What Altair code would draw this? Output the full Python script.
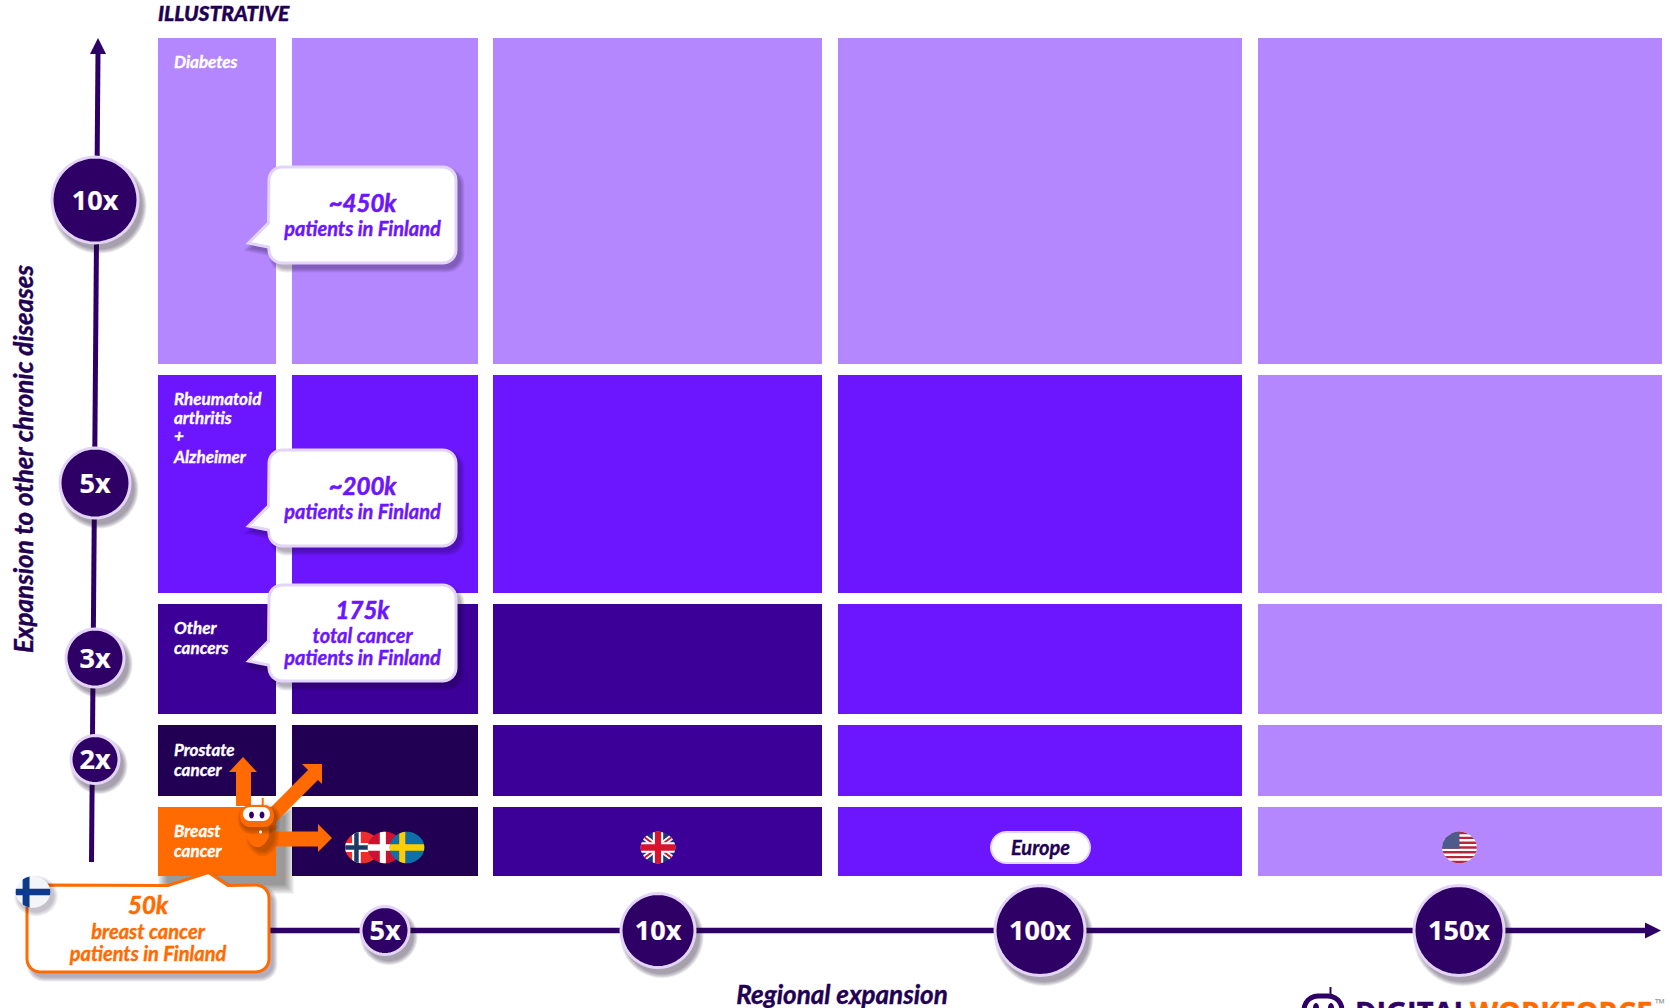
import math
import altair as alt
import pandas as pd

W, H = 1670, 1008
LABEL_FONT = "Lato"
BADGE_FONT = "Open Sans"

LILAC, VIOLET, INDIGO, NIGHT = "#B587FF", "#6C15FF", "#3C0099", "#210054"
ORANGE, AXIS, HALO = "#FF6B00", "#2E0066", "#E3D4FA"

# Grid of market/indication cells
column_start = [158, 292, 493, 838, 1258]
column_end = [276, 478, 822, 1242, 1662]
row_start = [38, 375, 604, 725, 807]
row_end = [364, 593, 714, 796, 876]
cell_tiers = [
    ["light", "light", "light", "light", "light"],
    ["mid", "mid", "mid", "mid", "light"],
    ["deep", "deep", "deep", "mid", "light"],
    ["night", "night", "deep", "mid", "light"],
    ["start", "night", "deep", "mid", "light"],
]
tier_names = ["light", "mid", "deep", "night", "start"]
tier_colors = [LILAC, VIOLET, INDIGO, NIGHT, ORANGE]

# Multiplier badges along both axes
y_badges = ["10x", "5x", "3x", "2x"]
y_badge_x = [95, 95, 95, 95]
y_badge_y = [200, 483, 658, 759.5]
y_badge_r = [43, 35, 29, 24]
x_badges = ["5x", "10x", "100x", "150x"]
x_badge_x = [385, 658, 1040, 1459]
x_badge_y = [930.5, 930.5, 930.5, 930.5]
x_badge_r = [24, 37, 45, 45]

# Disease labels inside the first column
cell_text = ["Diabetes", "Rheumatoid", "arthritis", "+", "Alzheimer", "Other",
             "cancers", "Prostate", "cancer", "Breast", "cancer"]
cell_text_y = [68, 405, 424, 442, 463, 634, 654, 756, 776, 837, 857]

# Speech bubbles: box centre, box size, text lines
bubble_x = [362.5, 362.5, 362.5]
bubble_y = [215, 498, 633]
bubble_w, bubble_h = 187, 96
bubble_heads = ["~450k", "~200k", "175k"]
bubble_head_y = [212, 495, 619]
bubble_lines = ["patients in Finland", "patients in Finland", "total cancer", "patients in Finland"]
bubble_line_y = [236, 519, 643, 665]

# Flags sit on the bottom row
flag_y = 847.5
nordic_x = [362.5, 385, 407]


def frame(**cols):
    return pd.DataFrame(cols)


def enc(**extra):
    return dict(
        x=alt.X("x:Q", scale=alt.Scale(domain=[0, W], range=[0, W]), axis=None),
        y=alt.Y("y:Q", scale=alt.Scale(domain=[0, H], range=[0, H]), axis=None),
        **extra,
    )


def poly(points):
    return "M" + "L".join(f"{a:.2f},{b:.2f}" for a, b in points) + "Z"


def ellipse(rx, ry, n=48):
    return [(rx * math.cos(2 * math.pi * i / n), ry * math.sin(2 * math.pi * i / n)) for i in range(n)]


def rounded(w, h, r, top_tail=None, left_tail=None):
    """Rounded box around the origin, optionally with a speech tail."""
    out = []

    def corner(cx, cy, start):
        for i in range(7):
            a = math.radians(start + i * 15)
            out.append((cx + r * math.cos(a), cy + r * math.sin(a)))

    hw, hh = w / 2, h / 2
    corner(-hw + r, -hh + r, 180)
    if top_tail:
        out.extend(top_tail)
    corner(hw - r, -hh + r, 270)
    corner(hw - r, hh - r, 0)
    corner(-hw + r, hh - r, 90)
    if left_tail:
        out.extend(left_tail)
    return poly(out)


def disc_piece(rx, ry, x_range=None, y_range=None, turn=0.0, n=72):
    """Part of an oval flag disc: the disc clipped to a band, optionally rotated."""
    out = []
    for i in range(n):
        a = 2 * math.pi * i / n
        u, v = math.cos(a), math.sin(a)
        c, s = math.cos(turn), math.sin(turn)
        p, q = u * c + v * s, -u * s + v * c
        if x_range:
            p = min(max(p, x_range[0]), x_range[1])
        if y_range:
            q = min(max(q, y_range[0]), y_range[1])
        u2, v2 = p * c - q * s, p * s + q * c
        out.append((u2 * rx, v2 * ry))
    return poly(out)


def glyph(xs, ys, shape, fill=None, stroke=None, sw=0.0, opacity=1.0, clip=False):
    props = dict(shape=shape, size=4, filled=True, opacity=opacity, strokeWidth=sw, clip=clip)
    if fill:
        props["fill"] = fill
    if stroke:
        props["stroke"] = stroke
    return alt.Chart(frame(x=xs, y=ys)).mark_point(**props).encode(**enc())


def shadow(xs, ys, shape, dx=5, dy=6, color="#1A0A33", strength=0.07, widths=(1, 3, 5, 7, 9)):
    return [
        glyph([a + dx for a in xs], [b + dy for b in ys], shape, fill=color, stroke=color, sw=sw, opacity=strength)
        for sw in widths
    ]


def text(xs, ys, labels, size, color, align="center", weight=700, italic=True, font=LABEL_FONT,
         angle=0, clip=False, thicken=0.35):
    props = dict(font=font, fontSize=size, fontWeight=weight, color=color, align=align,
                 baseline="alphabetic", angle=angle, clip=clip)
    if italic:
        props["fontStyle"] = "italic"
    if thicken:
        props["stroke"] = color
        props["strokeWidth"] = thicken
    return alt.Chart(frame(x=xs, y=ys, t=labels)).mark_text(**props).encode(**enc(text="t:N"))


def line(x0, y0, x1, y1, color, width, clip=False):
    return alt.Chart(frame(x=[x0], y=[y0], x1=[x1], y1=[y1])).mark_rule(
        color=color, strokeWidth=width, clip=clip
    ).encode(**enc(x2="x1:Q", y2="y1:Q"))


layers = []

# Cells
cells = pd.DataFrame([
    dict(x=column_start[c], x1=column_end[c], y=row_start[r], y1=row_end[r], tier=cell_tiers[r][c])
    for r in range(5) for c in range(5)
])
layers.append(
    alt.Chart(cells).mark_rect().encode(
        **enc(
            x2="x1:Q", y2="y1:Q",
            color=alt.Color("tier:N", scale=alt.Scale(domain=tier_names, range=tier_colors), legend=None),
        )
    )
)
start_w = column_end[0] - column_start[0]
start_h = row_end[4] - row_start[4]
start_cx = (column_start[0] + column_end[0]) / 2
start_cy = (row_start[4] + row_end[4]) / 2
layers += shadow([start_cx], [start_cy], rounded(start_w, start_h, 0.01), dx=9, dy=9,
                 color="#000000", strength=0.09, widths=(1, 5, 9, 13, 17))
layers.append(glyph([start_cx], [start_cy], rounded(start_w, start_h, 0.01), fill=ORANGE))

# Axes
layers.append(line(91.5, 862, 98, 52, AXIS, 5))
layers.append(glyph([98], [46], poly([(0, -8), (8, 8), (-8, 8)]), fill=AXIS))
layers.append(line(260, 930.5, 1648, 930.5, AXIS, 5.5))
layers.append(glyph([1653], [930.5], poly([(-8, -8), (8, 0), (-8, 8)]), fill=AXIS))

# Badges
for xs, ys, rs, labels, size in (
    (y_badge_x, y_badge_y, y_badge_r, y_badges, 27),
    (x_badge_x, x_badge_y, x_badge_r, x_badges, 27),
):
    for cx, cy, r, label in zip(xs, ys, rs, labels):
        disc = poly(ellipse(r, r))
        layers += shadow([cx], [cy], disc, dx=4, dy=6, color="#201030", strength=0.09)
        layers.append(glyph([cx], [cy], disc, fill=AXIS, stroke=HALO, sw=3))
        layers.append(text([cx], [cy + 9.5], [label], size, "#FFFFFF", italic=False, font=BADGE_FONT, thicken=0.2))

# Nordic flags
rx, ry = 17.3, 15.7
nordic = [
    ("#EE2D2D", disc_piece(rx, ry), 0),
    ("#FFFFFF", disc_piece(rx, ry, x_range=(-0.6, -0.1)), 0),
    ("#FFFFFF", disc_piece(rx, ry, y_range=(-0.28, 0.28)), 0),
    ("#1B3A6B", disc_piece(rx, ry, x_range=(-0.48, -0.22)), 0),
    ("#1B3A6B", disc_piece(rx, ry, y_range=(-0.14, 0.14)), 0),
    ("#CE1130", disc_piece(rx, ry), 1),
    ("#FFFFFF", disc_piece(rx, ry, x_range=(-0.3, 0.05)), 1),
    ("#FFFFFF", disc_piece(rx, ry, y_range=(-0.2, 0.2)), 1),
    ("#0F6FA8", disc_piece(rx, ry), 2),
    ("#FFCE00", disc_piece(rx, ry, x_range=(-0.45, -0.1)), 2),
    ("#FFCE00", disc_piece(rx, ry, y_range=(-0.2, 0.2)), 2),
]
for color, shape, which in nordic:
    layers.append(glyph([nordic_x[which]], [flag_y], shape, fill=color))

# United Kingdom
for color, shape in [
    ("#1B3A7B", disc_piece(rx, ry)),
    ("#FFFFFF", disc_piece(rx, ry, y_range=(-0.17, 0.17), turn=math.radians(40))),
    ("#FFFFFF", disc_piece(rx, ry, y_range=(-0.17, 0.17), turn=math.radians(-40))),
    ("#D3152F", disc_piece(rx, ry, y_range=(-0.06, 0.06), turn=math.radians(40))),
    ("#D3152F", disc_piece(rx, ry, y_range=(-0.06, 0.06), turn=math.radians(-40))),
    ("#FFFFFF", disc_piece(rx, ry, x_range=(-0.3, 0.3))),
    ("#FFFFFF", disc_piece(rx, ry, y_range=(-0.34, 0.34))),
    ("#D3152F", disc_piece(rx, ry, x_range=(-0.18, 0.18))),
    ("#D3152F", disc_piece(rx, ry, y_range=(-0.2, 0.2))),
]:
    layers.append(glyph([658], [flag_y], shape, fill=color))

# United States
layers.append(glyph([1459.5], [flag_y], disc_piece(rx, ry), fill="#FFFFFF"))
for k in range(7):
    top = -1 + k * 2 / 6.5
    layers.append(glyph([1459.5], [flag_y], disc_piece(rx, ry, y_range=(top, top + 2 / 13)), fill="#B5283C"))
layers.append(glyph([1459.5], [flag_y], disc_piece(rx, ry, x_range=(-1, 0.0), y_range=(-1, 0.08)), fill="#4D5A8C"))

# Europe pill
pill = rounded(99, 31, 15.4)
layers.append(glyph([1040.5], [flag_y], pill, fill="#FFFFFF", stroke=HALO, sw=2))
layers.append(text([1040.5], [flag_y + 7], ["Europe"], 20, NIGHT))

# Expansion arrows
layers.append(line(243.5, 806, 243.5, 771, ORANGE, 15))
layers.append(glyph([243], [764.5], poly([(-14, 7.5), (0, -7.5), (14, 7.5)]), fill=ORANGE))
layers.append(line(268, 820, 314, 774, ORANGE, 14))
layers.append(glyph([315], [772], poly([(-13, -8), (7, -8), (7, 12)]), fill=ORANGE))
layers.append(line(270, 839, 318, 839, ORANGE, 15))
layers.append(glyph([325], [838], poly([(-7, -14), (7, 0), (-7, 14)]), fill=ORANGE))

# Robot mascot
body = poly([(-12, -10), (12, -10), (11, 2), (7, 8), (2.5, 11), (-2.5, 11), (-7, 8), (-11, 2)])
layers += shadow([257.5], [836], body, dx=5, dy=4, color="#000000", strength=0.06, widths=(1, 4, 7, 10))
layers.append(glyph([257.5], [836], body, fill=ORANGE))
head = rounded(34, 22, 10)
layers += shadow([257], [816], head, dx=2, dy=3, color="#000000", strength=0.05)
layers.append(line(262.7, 798, 262.7, 806, ORANGE, 2))
layers.append(glyph([257], [816], head, fill=ORANGE))
layers.append(glyph([256.5], [814], rounded(27, 14, 7), fill="#FFFFFF"))
layers.append(glyph([251.5, 262], [815, 815], poly(ellipse(2.4, 3.4)), fill=AXIS))
layers.append(glyph([252, 256], [832, 832], poly(ellipse(1.3, 1.3)), fill="#D85A00"))
layers.append(glyph([260.5], [832], poly(ellipse(1.5, 1.5)), fill="#FFFFFF"))

# Speech bubbles for the Finnish patient counts
for cx, cy in zip(bubble_x, bubble_y):
    tail = [(-94, 8), (-114, 28), (-94, 32)]
    shape = rounded(bubble_w, bubble_h, 13, left_tail=[tail[2], tail[1], tail[0]])
    layers += shadow([cx], [cy], shape, dx=4, dy=5)
    layers.append(glyph([cx], [cy], shape, fill="#FFFFFF", stroke=HALO, sw=3))
layers.append(text(bubble_x, bubble_head_y, bubble_heads, 24, VIOLET, thicken=0.6))
layers.append(text([362.5] * 4, bubble_line_y, bubble_lines, 20, VIOLET, thicken=0.4))

orange_tail = [(20, -43), (60.5, -56), (80, -43)]
orange_box = rounded(242, 87, 13, top_tail=orange_tail)
layers += shadow([148], [928.5], orange_box, dx=4, dy=5)
layers.append(glyph([148], [928.5], orange_box, fill="#FFFFFF", stroke=ORANGE, sw=3))
layers.append(text([148], [914], ["50k"], 24, ORANGE, thicken=0.6))
layers.append(text([148, 148], [939, 961], ["breast cancer", "patients in Finland"], 20, ORANGE, thicken=0.4))

# Finland
layers += shadow([33], [892], disc_piece(rx, ry), dx=3, dy=4, strength=0.05)
layers.append(glyph([33], [892], disc_piece(rx, ry), fill="#F4F5F8"))
layers.append(glyph([33], [892], disc_piece(rx, ry, x_range=(-0.6, -0.2)), fill="#0D3A8C"))
layers.append(glyph([33], [892], disc_piece(rx, ry, y_range=(-0.2, 0.2)), fill="#0D3A8C"))

# Disease labels
layers.append(text([174] * len(cell_text), cell_text_y, cell_text, 17, "#FFFFFF", align="left"))

# Titles
layers.append(text([158], [21], ["ILLUSTRATIVE"], 21, NIGHT, align="left", weight=900, thicken=0.4))
layers.append(text([33], [459], ["Expansion to other chronic diseases"], 26, NIGHT, angle=270, thicken=0.4))
layers.append(text([842], [1004], ["Regional expansion"], 26, NIGHT, thicken=0.4))

# Company logo, running off the bottom edge
layers.append(text([1355], [1023], ["DIGITAL"], 29, AXIS, align="left", italic=False, font=BADGE_FONT, clip=True, thicken=0.5))
layers.append(text([1470], [1023], ["WORKFORCE"], 29, ORANGE, align="left", italic=False, font=BADGE_FONT, clip=True, thicken=0.5))
layers.append(text([1655], [1008], ["™"], 13, "#999999", align="left", italic=False, font=BADGE_FONT, thicken=0))
layers.append(glyph([1323], [1016], rounded(38, 40, 14), fill="#FFFFFF", stroke=AXIS, sw=5, clip=True))
layers.append(line(1330.5, 987, 1330.5, 994, AXIS, 2))
layers.append(glyph([1316, 1331], [1008, 1008], poly(ellipse(3, 5)), fill=AXIS, clip=True))

chart = (
    alt.layer(*layers)
    .properties(width=W, height=H, padding=0, autosize=alt.AutoSizeParams(type="none"), background="#FFFFFF")
    .configure_view(stroke=None)
)
chart.save("out.html", embed_options={"renderer": "svg", "actions": False})
